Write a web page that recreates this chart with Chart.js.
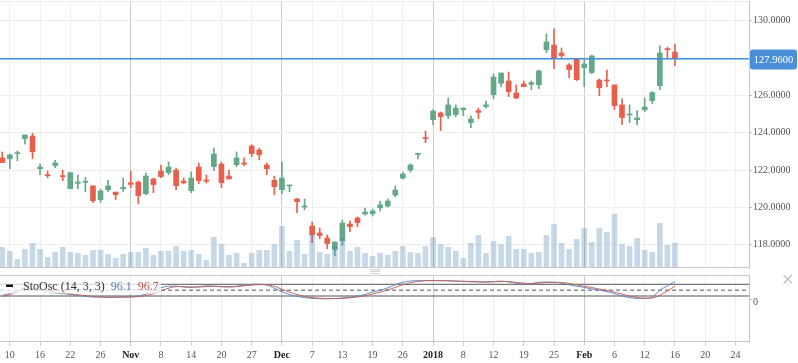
<!DOCTYPE html>
<html>
<head>
<meta charset="utf-8">
<script src="https://cdn.jsdelivr.net/npm/chart.js@4.4.1/dist/chart.umd.min.js"></script>
<style>
  html, body { margin: 0; padding: 0; background: #fff; }
  #wrap { position: relative; width: 798px; height: 363px; overflow: hidden; }
  canvas { position: absolute; left: 0; }
  #priceChart { top: 0; }
  #oscChart { top: 266px; }
</style>
</head>
<body>
<div id="wrap">
  <canvas id="priceChart" width="798" height="270"></canvas>
  <canvas id="oscChart" width="798" height="97"></canvas>
</div>
<script>
// daily candles, one per trading day
const opens = [
  122.65, 122.61, 122.88, 123.68, 123.82, 122.07, 121.73, 122.24, 121.70, 121.00,
  121.29, 121.34, 121.15, 120.41, 120.95, 120.82, 121.00, 121.32, 121.36, 120.73,
  121.52, 121.95, 121.86, 122.00, 121.41, 120.90, 122.16, 121.47, 122.18, 122.32,
  121.68, 122.29, 122.38, 123.29, 123.07, 122.27, 121.45, 120.95, 121.15, 120.45,
  120.02, 119.00, 118.63, 118.36, 117.75, 118.22, 119.11, 119.43, 119.65, 119.66,
  119.98, 120.07, 120.66, 121.57, 122.00, 122.84, 123.74, 124.70, 125.06, 124.91,
  124.97, 125.23, 124.54, 125.18, 125.40, 126.04, 126.65, 126.77, 126.13, 126.61,
  126.59, 126.57, 128.45, 128.70, 128.27, 127.63, 127.95, 127.48, 127.22, 126.82,
  126.82, 126.56, 125.49, 124.95, 124.70, 125.23, 125.72, 126.52, 128.50, 128.32
];
const highs = [
  122.97, 122.86, 123.02, 123.88, 123.97, 122.32, 121.95, 122.52, 122.00, 121.89,
  121.73, 121.61, 121.15, 120.98, 121.45, 120.82, 121.57, 121.95, 121.41, 121.84,
  121.57, 122.27, 122.43, 122.11, 121.57, 121.90, 122.38, 121.73, 123.18, 122.43,
  122.00, 122.97, 122.65, 123.36, 123.18, 122.38, 121.68, 122.43, 121.18, 120.48,
  120.45, 119.22, 118.90, 118.52, 118.15, 119.32, 119.27, 119.49, 119.97, 119.91,
  120.34, 120.45, 121.15, 121.89, 122.32, 122.91, 124.09, 125.22, 125.11, 125.86,
  125.49, 125.32, 124.90, 125.32, 125.70, 127.15, 127.20, 127.25, 126.56, 126.77,
  126.77, 127.36, 129.29, 129.56, 128.54, 127.70, 127.95, 127.90, 128.16, 126.88,
  127.36, 126.56, 125.81, 125.49, 125.18, 125.86, 126.20, 128.65, 128.59, 128.75
];
const lows = [
  122.40, 122.07, 122.50, 123.38, 122.61, 121.75, 121.59, 122.13, 121.43, 121.00,
  121.00, 120.84, 120.25, 120.27, 120.84, 120.41, 120.86, 121.06, 120.20, 120.68,
  120.79, 121.59, 121.75, 120.93, 121.27, 120.79, 121.27, 121.31, 121.97, 121.06,
  121.52, 122.18, 122.23, 122.72, 122.54, 121.75, 120.68, 120.73, 120.84, 119.72,
  119.88, 118.11, 118.33, 117.79, 117.41, 117.98, 118.70, 118.97, 119.59, 119.54,
  119.81, 120.02, 120.56, 121.52, 121.89, 122.59, 123.47, 124.43, 124.11, 124.75,
  124.86, 124.91, 124.27, 124.75, 125.32, 125.82, 126.47, 125.93, 125.82, 126.47,
  126.31, 126.36, 128.29, 127.43, 127.97, 126.95, 126.79, 126.47, 127.16, 125.98,
  126.47, 125.24, 124.43, 124.54, 124.43, 125.13, 125.56, 126.31, 127.97, 127.59
];
const closes = [
  122.40, 122.81, 122.91, 123.88, 122.98, 122.16, 121.70, 122.38, 121.65, 121.86,
  121.36, 121.36, 120.36, 120.88, 121.15, 120.68, 121.07, 121.23, 120.63, 121.68,
  121.22, 121.65, 122.16, 121.16, 121.31, 121.57, 121.43, 121.40, 122.86, 121.32,
  121.52, 122.65, 122.32, 122.88, 122.82, 122.07, 121.11, 121.57, 121.18, 120.31,
  120.07, 118.54, 118.49, 118.06, 118.15, 119.16, 118.97, 119.18, 119.75, 119.81,
  120.13, 120.34, 120.93, 121.79, 122.27, 122.88, 123.68, 125.16, 124.86, 125.49,
  125.32, 125.32, 124.74, 125.09, 125.49, 126.98, 127.20, 126.20, 125.86, 126.47,
  126.68, 127.31, 128.86, 127.97, 128.13, 127.38, 126.84, 127.68, 128.11, 126.41,
  126.77, 125.45, 124.81, 125.00, 124.79, 125.38, 126.15, 128.27, 128.45, 127.96
];
const volumes = [
  2070, 1670, 870, 1870, 2470, 1870, 1070, 1570, 2070, 1570,
  1470, 1270, 1770, 1770, 1370, 970, 1370, 1570, 1570, 1970,
  1270, 1670, 1670, 2170, 1670, 1770, 1370, 770, 3070, 2370,
  1270, 1470, 470, 1470, 1770, 1770, 2370, 4170, 1670, 2770,
  1370, 3370, 1570, 1370, 2170, 2970, 1670, 2070, 1470, 1170,
  1470, 1270, 1670, 2170, 1570, 1470, 2170, 3070, 2370, 2070,
  1670, 970, 2470, 3270, 1470, 2670, 2370, 3170, 1870, 1870,
  1470, 1570, 3270, 4370, 2470, 1870, 2870, 3970, 2570, 3970,
  3570, 5370, 2370, 2170, 2970, 1770, 1570, 4470, 2270, 2470
];
// StoOsc (14, 3, 3): %K blue, %D red
const stochK = [
  22, 35, 48, 62, 60, 50, 40, 35, 32, 28,
  22, 18, 15, 14, 13, 14, 15, 16, 20, 30,
  45, 62, 70, 70, 66, 64, 68, 72, 70, 67,
  66, 70, 76, 79, 80, 76, 60, 42, 28, 18,
  12, 8, 6, 6, 7, 10, 14, 20, 28, 40,
  50, 62, 78, 90, 97, 98, 99, 99, 98, 98,
  96, 94, 93, 92, 92, 94, 96, 92, 85, 82,
  84, 90, 92, 90, 86, 78, 70, 64, 56, 50,
  42, 32, 20, 12, 8, 8, 14, 50, 72, 94
];
const stochD = [
  18, 28, 40, 52, 58, 56, 48, 40, 35, 31,
  26, 22, 18, 16, 14, 14, 14, 15, 17, 22,
  32, 46, 60, 68, 68, 66, 66, 68, 70, 69,
  68, 68, 72, 76, 78, 78, 70, 54, 40, 28,
  18, 12, 9, 7, 7, 8, 11, 15, 21, 30,
  40, 52, 64, 78, 88, 95, 98, 99, 99, 98,
  97, 96, 94, 93, 92, 93, 94, 94, 90, 86,
  84, 86, 89, 90, 89, 84, 77, 70, 63, 56,
  49, 40, 30, 20, 12, 9, 10, 24, 46, 70
];
const tickLabels = ['10', '16', '22', '26', 'Nov', '8', '14', '20', '27', 'Dec', '7', '13', '19', '26',
  '2018', '8', '12', '19', '25', 'Feb', '6', '12', '16', '20', '24'];
const monthLabels = ['Nov', 'Dec', '2018', 'Feb'];
const priceTicks = [118, 120, 122, 124, 126, 128, 130];
const stochLevels = [80, 50, 20];
const stochValues = ['96.1', '96.7'];

const X_MIN = -0.3;
const X_MAX = 98.8;
const UP = '#63a887';
const DOWN = '#e8604c';
const PRICE_BLUE = 'rgb(62,140,222)';
const tickPos = tickLabels.map((_, k) => 1 + 4 * k);
const lastClose = closes[closes.length - 1];

const candleColors = closes.map((c, i) => c >= opens[i] ? UP : DOWN);
const bodyData = closes.map((c, i) => ({ x: i, y: [opens[i], c] }));
const wickData = closes.map((c, i) => ({ x: i, y: [lows[i], highs[i]] }));
const volData = volumes.map((v, i) => ({ x: i, y: v }));

function fixXTicks(scale) {
  scale.ticks = tickPos.map(v => ({ value: v }));
}
function isMonth(v) {
  return monthLabels.includes(tickLabels[(v - 1) / 4]);
}
function tickIsMonth(ctx) {
  return !!(ctx && ctx.tick && isMonth(ctx.tick.value));
}
const xGridColor = ctx => tickIsMonth(ctx) ? '#c9c9c9' : '#efefef';

const priceOverlay = {
  id: 'priceOverlay',
  afterDatasetsDraw(chart) {
    const { ctx, chartArea: a } = chart;
    ctx.save();
    ctx.fillStyle = '#ececec';
    ctx.fillRect(a.left, a.top, a.right - a.left, 1);
    ctx.fillStyle = '#c8c8c8';
    ctx.fillRect(a.left, a.bottom - 1, a.right - a.left, 1);
    ctx.restore();
  },
  afterDraw(chart) {
    // last price line and tag
    const { ctx, chartArea: a, scales: { y } } = chart;
    const yExact = y.getPixelForValue(lastClose);
    const py = Math.round(yExact);
    ctx.save();
    ctx.fillStyle = PRICE_BLUE;
    ctx.fillRect(a.left, yExact - 0.75, a.right - a.left, 1.5);
    ctx.fillStyle = '#4a8fd8';
    ctx.beginPath();
    ctx.roundRect(a.right + 1, py - 9.5, 47, 20, 3);
    ctx.fill();
    ctx.fillStyle = '#fff';
    ctx.font = '10.5px "Liberation Serif"';
    ctx.textAlign = 'center';
    ctx.textBaseline = 'middle';
    ctx.fillText(lastClose.toFixed(4), a.right + 24.5, py + 1);
    ctx.restore();
  }
};

new Chart(document.getElementById('priceChart'), {
  type: 'bar',
  data: {
    datasets: [
      { label: 'Volume', data: volData, yAxisID: 'yv', backgroundColor: 'rgba(70,125,180,0.3)',
        barThickness: 5, grouped: false, order: 0 },
      { label: 'Body', data: bodyData, yAxisID: 'y', backgroundColor: candleColors,
        barThickness: 5, minBarLength: 1, grouped: false, order: 1 },
      { label: 'Wick', data: wickData, yAxisID: 'y', backgroundColor: candleColors,
        barThickness: 1, grouped: false, order: 2 }
    ]
  },
  options: {
    responsive: false,
    animation: false,
    events: [],
    devicePixelRatio: 1,
    layout: { padding: { top: 1, bottom: 2, left: 0, right: 0 } },
    plugins: { legend: { display: false }, tooltip: { enabled: false } },
    scales: {
      x: {
        type: 'linear', min: X_MIN, max: X_MAX, offset: false,
        afterBuildTicks: fixXTicks,
        ticks: { display: false },
        grid: { color: xGridColor, drawTicks: false, offset: false },
        border: { display: false },
        afterFit: s => { s.height = 0; s.paddingLeft = 0; s.paddingRight = 0; }
      },
      y: {
        position: 'right', min: 116.754, max: 131.055,
        afterBuildTicks: s => { s.ticks = priceTicks.map(v => ({ value: v })); },
        ticks: {
          autoSkip: false, padding: 1, color: '#555',
          font: { family: 'Liberation Serif', size: 10 },
          callback: v => v.toFixed(4)
        },
        grid: { color: '#efefef', tickColor: '#bbb', tickLength: 3 },
        border: { color: '#c8c8c8' },
        afterFit: s => { s.width = 49; s.paddingTop = 0; s.paddingBottom = 0; }
      },
      yv: { display: false, min: 0, max: 26700 }
    }
  },
  plugins: [priceOverlay]
});

const oscOverlay = {
  id: 'oscOverlay',
  afterDatasetsDraw(chart) {
    const { ctx, chartArea: a } = chart;
    ctx.save();
    ctx.fillStyle = '#c8c8c8';
    ctx.fillRect(a.left, a.top, a.right - a.left, 1);
    ctx.fillRect(a.left, a.bottom - 1, a.right - a.left, 1);

    // panel resize handle
    ctx.fillStyle = '#cfcfcf';
    [3, 5, 7].forEach(yy => ctx.fillRect(370, yy, 10, 1));

    // close icon
    ctx.lineWidth = 1;
    ctx.strokeStyle = '#9a9a9a';
    ctx.beginPath();
    ctx.moveTo(783.5, 9); ctx.lineTo(792, 17.5);
    ctx.moveTo(792, 9); ctx.lineTo(783.5, 17.5);
    ctx.stroke();

    // indicator legend
    ctx.fillStyle = 'rgba(255,255,255,0.75)';
    ctx.fillRect(0, a.top + 1.5, 161, 17);
    ctx.fillStyle = '#111';
    ctx.fillRect(6, 18.5, 7, 2.5);
    ctx.font = '12px "Liberation Serif"';
    ctx.textBaseline = 'alphabetic';
    ctx.textAlign = 'left';
    let tx = 23;
    const name = 'StoOsc (14, 3, 3)';
    ctx.fillStyle = '#333';
    ctx.fillText(name, tx, 24);
    tx += ctx.measureText(name).width + 6;
    ctx.fillStyle = '#4a7dbf';
    ctx.fillText(stochValues[0], tx, 24);
    tx += ctx.measureText(stochValues[0]).width + 6;
    ctx.fillStyle = '#c0504d';
    ctx.fillText(stochValues[1], tx, 24);
    ctx.restore();
  }
};

const levelSets = stochLevels.map(lv => ({
  label: 'L' + lv,
  data: [{ x: X_MIN, y: lv }, { x: X_MAX, y: lv }],
  borderColor: '#555',
  borderWidth: 1,
  borderDash: lv === 50 ? [4, 3] : [],
  pointRadius: 0,
  tension: 0,
  order: 5
}));

new Chart(document.getElementById('oscChart'), {
  type: 'line',
  data: {
    datasets: [
      { label: '%K', data: stochK.map((v, i) => ({ x: i, y: v })), borderColor: '#5b88c4',
        borderWidth: 1, pointRadius: 0, tension: 0.4, order: 1 },
      { label: '%D', data: stochD.map((v, i) => ({ x: i, y: v })), borderColor: '#c4605a',
        borderWidth: 1, pointRadius: 0, tension: 0.4, order: 0 },
      ...levelSets
    ]
  },
  options: {
    responsive: false,
    animation: false,
    events: [],
    devicePixelRatio: 1,
    layout: { padding: { top: 9, bottom: 0, left: 0, right: 0 } },
    plugins: { legend: { display: false }, tooltip: { enabled: false } },
    scales: {
      x: {
        type: 'linear', min: X_MIN, max: X_MAX, offset: false,
        afterBuildTicks: fixXTicks,
        ticks: {
          autoSkip: false, maxRotation: 0, padding: 3,
          callback: v => tickLabels[(v - 1) / 4],
          color: ctx => tickIsMonth(ctx) ? '#222' : '#555',
          font: ctx => ({ family: 'Liberation Serif', size: 10, weight: tickIsMonth(ctx) ? 'bold' : 'normal' })
        },
        grid: { color: xGridColor, tickColor: '#d0d0d0', tickLength: 4 },
        border: { display: false },
        afterFit: s => { s.height = 21; s.paddingLeft = 0; s.paddingRight = 0; }
      },
      y: {
        position: 'right', min: -215.9, max: 127.7,
        afterBuildTicks: s => { s.ticks = [{ value: 0 }]; },
        ticks: { padding: 1, labelOffset: 2, color: '#555', font: { family: 'Liberation Serif', size: 10 } },
        grid: { drawOnChartArea: false, tickColor: '#bbb', tickLength: 3 },
        border: { color: '#c8c8c8' },
        afterFit: s => { s.width = 49; s.paddingTop = 0; s.paddingBottom = 0; }
      }
    }
  },
  plugins: [oscOverlay]
});
</script>
</body>
</html>
